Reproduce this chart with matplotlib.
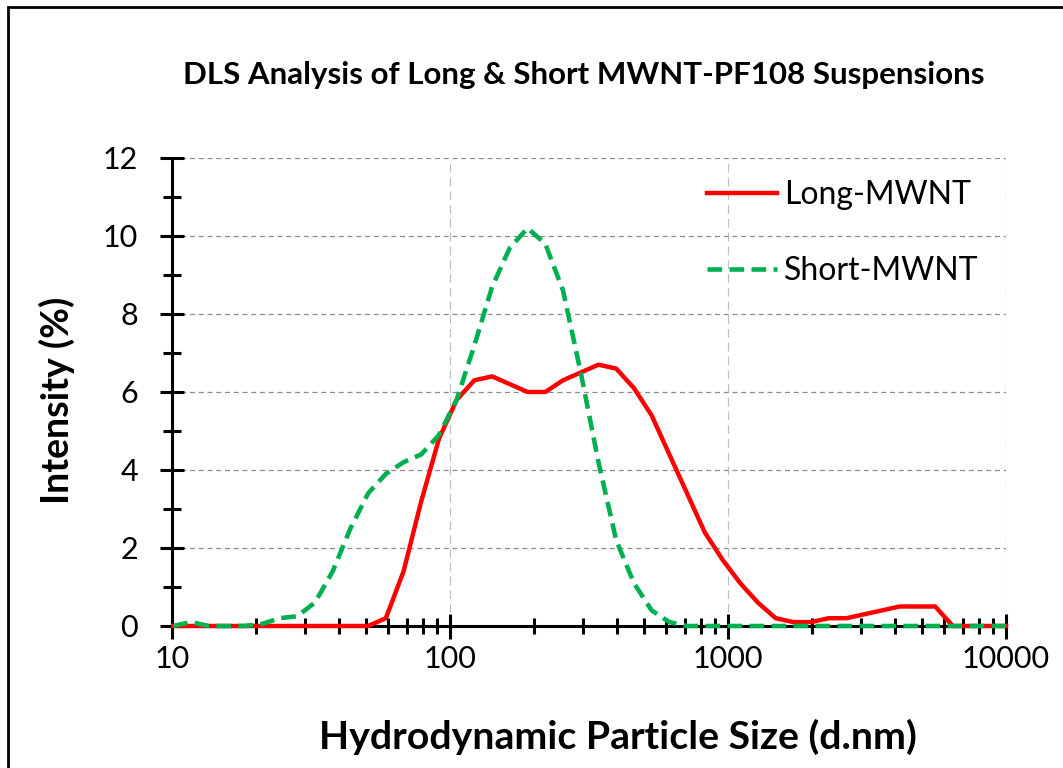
import matplotlib
matplotlib.use("Agg")
import matplotlib.pyplot as plt
from matplotlib.patches import Rectangle
from matplotlib.ticker import FixedLocator, FuncFormatter, LogLocator, NullFormatter, MultipleLocator

plt.rcParams["font.family"] = ["Lato", "DejaVu Sans"]

# Zetasizer size bins (d.nm)
sizes = [10.1, 11.7, 13.54, 15.69, 18.17, 21.04, 24.36, 28.21, 32.67, 37.84,
         43.82, 50.75, 58.77, 68.06, 78.82, 91.28, 105.7, 122.4, 141.8, 164.2,
         190.1, 220.2, 255.0, 295.3, 342.0, 396.1, 458.7, 531.2, 615.1, 712.4,
         825.0, 955.4, 1106, 1281, 1484, 1718, 1990, 2305, 2669, 3091,
         3580, 4145, 4801, 5560, 6439, 7456, 8635, 10000]

long_mwnt = [0, 0, 0, 0, 0, 0, 0, 0, 0, 0,
             0, 0, 0.2, 1.4, 3.2, 4.8, 5.8, 6.3, 6.4, 6.2,
             6.0, 6.0, 6.3, 6.5, 6.7, 6.6, 6.1, 5.4, 4.4, 3.4,
             2.4, 1.7, 1.1, 0.6, 0.2, 0.1, 0.1, 0.2, 0.2, 0.3,
             0.4, 0.5, 0.5, 0.5, 0, 0, 0, 0]

short_mwnt = [0, 0.1, 0, 0, 0, 0.05, 0.2, 0.25, 0.6, 1.4,
              2.5, 3.4, 3.9, 4.2, 4.4, 4.9, 5.8, 7.2, 8.7, 9.7,
              10.2, 9.8, 8.6, 6.5, 4.2, 2.2, 1.1, 0.4, 0.1, 0,
              0, 0, 0, 0, 0, 0, 0, 0, 0, 0,
              0, 0, 0, 0, 0, 0, 0, 0]

RED = "#FF0000"
GREEN = "#00B050"

fig = plt.figure(figsize=(10.63, 7.68), dpi=100)
ax = fig.add_axes([0.1618, 0.1849, 0.7846, 0.6094])

ax.plot(sizes, long_mwnt, color=RED, lw=3.2, label="Long-MWNT", zorder=3, clip_on=False)
ax.plot(sizes, short_mwnt, color=GREEN, lw=3.3, ls=(0, (3.2, 1.6)), label="Short-MWNT",
        zorder=3.1, clip_on=False)

ax.set_xscale("log")
ax.set_xlim(10, 10000)
ax.set_ylim(0, 12)

ax.xaxis.set_major_locator(FixedLocator([10, 100, 1000, 10000]))
ax.xaxis.set_minor_locator(LogLocator(base=10, subs=range(2, 10)))
ax.xaxis.set_major_formatter(FuncFormatter(lambda v, p: "%d" % v))
ax.xaxis.set_minor_formatter(NullFormatter())
ax.yaxis.set_major_locator(MultipleLocator(2))
ax.yaxis.set_minor_locator(MultipleLocator(1))

for s in ("top", "right"):
    ax.spines[s].set_visible(False)
for s in ("left", "bottom"):
    ax.spines[s].set_linewidth(2.2)

ax.tick_params(axis="x", which="major", direction="inout", length=18, width=2.2,
               pad=5, labelsize=22)
ax.tick_params(axis="x", which="minor", direction="inout", length=11, width=2.2)
ax.tick_params(axis="y", which="major", direction="inout", length=17, width=2.2,
               pad=16, labelsize=22)
ax.tick_params(axis="y", which="minor", direction="inout", length=13, width=2.2)

ax.yaxis.grid(True, which="major", ls=(0, (4, 3)), color="#8c8c8c", lw=0.9)
ax.xaxis.grid(True, which="major", ls=(0, (7, 4)), color="#c0c0c0", lw=0.9)
ax.set_axisbelow(True)

leg = ax.legend(loc="upper left", bbox_to_anchor=(707 / 1063, 1 - 180 / 768),
                bbox_transform=fig.transFigure, frameon=False, fontsize=23,
                handlelength=2.2, handletextpad=0.2, labelspacing=1.45,
                borderpad=0, borderaxespad=0)

fig.text(584 / 1063, 1 - 75 / 768, "DLS Analysis of Long & Short MWNT-PF108 Suspensions",
         ha="center", va="center", fontsize=22.5, fontweight="bold")
fig.text(618 / 1063, 1 - 737 / 768, "Hydrodynamic Particle Size (d.nm)",
         ha="center", va="center", fontsize=28.3, fontweight="bold")
fig.text(57 / 1063, 1 - 400 / 768, "Intensity (%)", rotation=90,
         ha="center", va="center", fontsize=27, fontweight="bold")

# chart frame (cropped on the right and bottom)
fig.patches.append(Rectangle((7.5 / 1063, -0.1), 1.2, 1.1 - 6.7 / 768,
                             transform=fig.transFigure, fill=False,
                             edgecolor="black", lw=2, clip_on=False))

fig.savefig("out.png", dpi=100)
